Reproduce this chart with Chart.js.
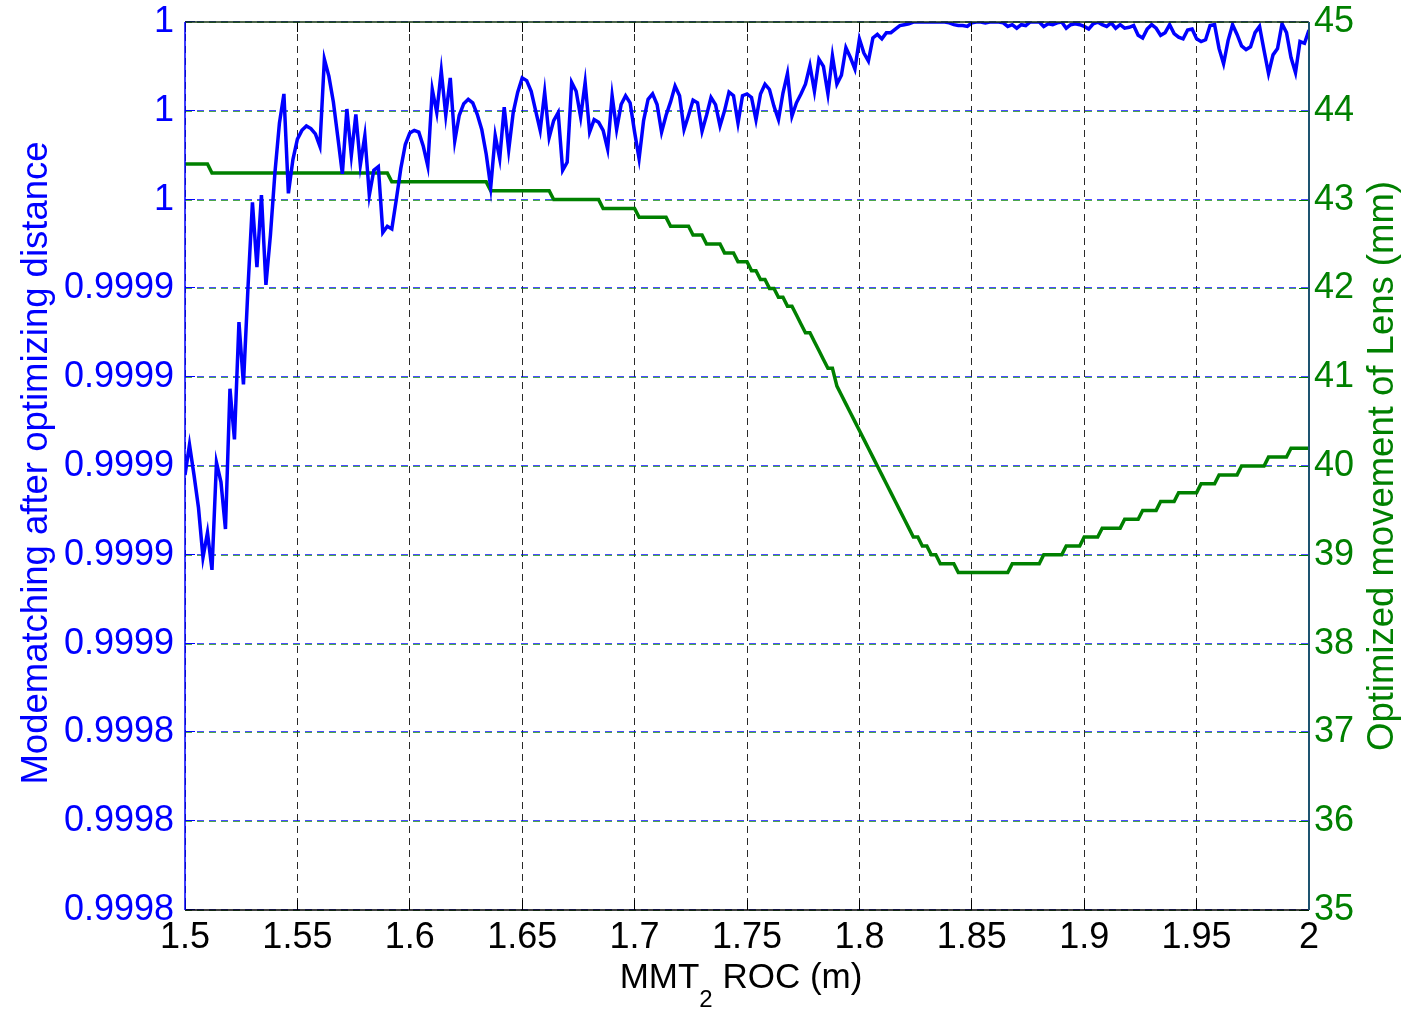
<!DOCTYPE html>
<html>
<head>
<meta charset="utf-8">
<script src="https://cdn.jsdelivr.net/npm/chart.js@4.4.1/dist/chart.umd.min.js"></script>
<style>
html,body{margin:0;padding:0;background:#ffffff;}
#wrap{width:1402px;height:1009px;position:relative;}
canvas{display:block;}
</style>
</head>
<body>
<div id="wrap"><canvas id="c" width="1402" height="1009"></canvas></div>
<script>
// ---------- data ----------
const rocValues = [
1.5,1.502,1.504,1.506,1.508,1.51,1.512,1.514,1.516,1.518,
1.52,1.522,1.524,1.526,1.528,1.53,1.532,1.534,1.536,1.538,
1.54,1.542,1.544,1.546,1.548,1.55,1.552,1.554,1.556,1.558,
1.56,1.562,1.564,1.566,1.568,1.57,1.572,1.574,1.576,1.578,
1.58,1.582,1.584,1.586,1.588,1.59,1.592,1.594,1.596,1.598,
1.6,1.602,1.604,1.606,1.608,1.61,1.612,1.614,1.616,1.618,
1.62,1.622,1.624,1.626,1.628,1.63,1.632,1.634,1.636,1.638,
1.64,1.642,1.644,1.646,1.648,1.65,1.652,1.654,1.656,1.658,
1.66,1.662,1.664,1.666,1.668,1.67,1.672,1.674,1.676,1.678,
1.68,1.682,1.684,1.686,1.688,1.69,1.692,1.694,1.696,1.698,
1.7,1.702,1.704,1.706,1.708,1.71,1.712,1.714,1.716,1.718,
1.72,1.722,1.724,1.726,1.728,1.73,1.732,1.734,1.736,1.738,
1.74,1.742,1.744,1.746,1.748,1.75,1.752,1.754,1.756,1.758,
1.76,1.762,1.764,1.766,1.768,1.77,1.772,1.774,1.776,1.778,
1.78,1.782,1.784,1.786,1.788,1.79,1.792,1.794,1.796,1.798,
1.8,1.802,1.804,1.806,1.808,1.81,1.812,1.814,1.816,1.818,
1.82,1.822,1.824,1.826,1.828,1.83,1.832,1.834,1.836,1.838,
1.84,1.842,1.844,1.846,1.848,1.85,1.852,1.854,1.856,1.858,
1.86,1.862,1.864,1.866,1.868,1.87,1.872,1.874,1.876,1.878,
1.88,1.882,1.884,1.886,1.888,1.89,1.892,1.894,1.896,1.898,
1.9,1.902,1.904,1.906,1.908,1.91,1.912,1.914,1.916,1.918,
1.92,1.922,1.924,1.926,1.928,1.93,1.932,1.934,1.936,1.938,
1.94,1.942,1.944,1.946,1.948,1.95,1.952,1.954,1.956,1.958,
1.96,1.962,1.964,1.966,1.968,1.97,1.972,1.974,1.976,1.978,
1.98,1.982,1.984,1.986,1.988,1.99,1.992,1.994,1.996,1.998,
2.0
];

const modematching = [
0.999898,0.9999048,0.999898,0.9998906,0.9998794,0.999885,0.9998766,0.9999008,0.9998964,0.9998858,
0.9999174,0.999906,0.9999324,0.9999184,0.99994,0.9999594,0.9999448,0.999961,0.9999408,0.999952,
0.999966,0.9999772,0.9999838,0.9999614,0.999969,0.9999736,0.9999756,0.9999766,0.999976,0.9999748,
0.999972,0.9999916,0.9999878,0.999982,0.999974,0.9999658,0.9999804,0.99997,0.9999792,0.9999678,
0.9999744,0.999961,0.9999666,0.9999674,0.9999526,0.999954,0.9999534,0.99996,0.999967,0.9999724,
0.999975,0.9999756,0.9999752,0.999972,0.9999676,0.9999848,0.9999796,0.999989,0.999979,0.9999874,
0.9999732,0.999979,0.9999816,0.9999826,0.9999818,0.9999792,0.9999758,0.9999702,0.9999628,0.9999744,
0.9999692,0.9999808,0.9999712,0.9999796,0.9999842,0.9999874,0.9999868,0.9999844,0.99998,0.9999756,
0.9999842,0.999974,0.9999778,0.9999796,0.9999666,0.9999684,0.9999864,0.9999844,0.9999786,0.9999864,
0.9999752,0.999978,0.9999774,0.9999756,0.9999714,0.9999834,0.9999758,0.9999814,0.9999834,0.9999818,
0.9999752,0.9999692,0.9999778,0.9999826,0.9999838,0.9999814,0.9999752,0.999979,0.999982,0.9999856,
0.9999834,0.9999758,0.999979,0.9999824,0.9999818,0.9999754,0.999979,0.999983,0.9999814,0.9999766,
0.99998,0.9999842,0.9999834,0.9999772,0.9999834,0.9999838,0.999983,0.999978,0.9999838,0.999986,
0.9999848,0.999981,0.999978,0.999984,0.9999884,0.9999788,0.9999818,0.9999838,0.999986,0.9999902,
0.9999844,0.9999916,0.99999,0.9999838,0.9999924,0.999986,0.999988,0.9999942,0.999992,0.9999894,
0.9999962,0.999993,0.9999912,0.9999964,0.9999972,0.9999962,0.9999976,0.9999976,0.9999984,0.9999992,
0.9999994,0.9999996,1,1,1,1,1,1,1,1,
0.9999998,0.9999994,0.9999992,0.9999992,0.999999,0.9999998,1,1,0.9999998,1,
1,1,0.9999998,0.999999,0.9999994,0.9999986,0.9999994,0.9999992,1,1,
1,0.999999,0.9999996,0.9999994,0.9999998,1,0.9999986,0.9999994,0.9999996,0.9999994,
0.999999,0.9999984,0.9999996,1,0.9999994,0.999999,0.9999998,0.9999986,0.9999994,0.9999986,
0.9999988,0.9999992,0.999997,0.9999964,0.9999984,0.9999994,0.9999986,0.999997,0.9999976,0.9999994,
0.9999974,0.9999966,0.9999962,0.9999982,0.9999984,0.9999962,0.9999956,0.999996,0.9999992,0.9999994,
0.999994,0.9999906,0.9999958,0.9999994,0.9999972,0.9999946,0.9999938,0.9999944,0.9999976,0.999999,
0.9999936,0.9999884,0.9999926,0.999994,0.9999996,0.9999976,0.999992,0.9999886,0.9999956,0.9999952,
0.9999982
];

const lensMovement = [
43.4,43.4,43.4,43.4,43.4,43.4,43.3,43.3,43.3,43.3,
43.3,43.3,43.3,43.3,43.3,43.3,43.3,43.3,43.3,43.3,
43.3,43.3,43.3,43.3,43.3,43.3,43.3,43.3,43.3,43.3,
43.3,43.3,43.3,43.3,43.3,43.3,43.3,43.3,43.3,43.3,
43.3,43.3,43.3,43.3,43.3,43.3,43.2,43.2,43.2,43.2,
43.2,43.2,43.2,43.2,43.2,43.2,43.2,43.2,43.2,43.2,
43.2,43.2,43.2,43.2,43.2,43.2,43.2,43.2,43.1,43.1,
43.1,43.1,43.1,43.1,43.1,43.1,43.1,43.1,43.1,43.1,
43.1,43.1,43.0,43.0,43.0,43.0,43.0,43.0,43.0,43.0,
43.0,43.0,43.0,42.9,42.9,42.9,42.9,42.9,42.9,42.9,
42.9,42.8,42.8,42.8,42.8,42.8,42.8,42.8,42.7,42.7,
42.7,42.7,42.7,42.6,42.6,42.6,42.5,42.5,42.5,42.5,
42.4,42.4,42.4,42.3,42.3,42.3,42.2,42.2,42.1,42.1,
42.0,42.0,41.9,41.9,41.8,41.8,41.7,41.6,41.5,41.5,
41.4,41.3,41.2,41.1,41.1,40.9,40.8,40.7,40.6,40.5,
40.4,40.3,40.2,40.1,40.0,39.9,39.8,39.7,39.6,39.5,
39.4,39.3,39.2,39.2,39.1,39.1,39.0,39.0,38.9,38.9,
38.9,38.9,38.8,38.8,38.8,38.8,38.8,38.8,38.8,38.8,
38.8,38.8,38.8,38.8,38.9,38.9,38.9,38.9,38.9,38.9,
38.9,39.0,39.0,39.0,39.0,39.0,39.1,39.1,39.1,39.1,
39.2,39.2,39.2,39.2,39.3,39.3,39.3,39.3,39.3,39.4,
39.4,39.4,39.4,39.5,39.5,39.5,39.5,39.6,39.6,39.6,
39.6,39.7,39.7,39.7,39.7,39.7,39.8,39.8,39.8,39.8,
39.9,39.9,39.9,39.9,39.9,40.0,40.0,40.0,40.0,40.0,
40.0,40.1,40.1,40.1,40.1,40.1,40.2,40.2,40.2,40.2,
40.2
];

const xTickValues = [1.5,1.55,1.6,1.65,1.7,1.75,1.8,1.85,1.9,1.95,2];
const leftTickValues = [0.9998,0.99982,0.99984,0.99986,0.99988,0.9999,0.99992,0.99994,0.99996,0.99998,1];
const rightTickValues = [35,36,37,38,39,40,41,42,43,44,45];

const leftTitle = 'Modematching after optimizing distance';
const rightTitle = 'Optimized movement of Lens (mm)';
const xTitleMain = 'MMT';
const xTitleSub = '2';
const xTitleRest = ' ROC (m)';

// ---------- styling ----------
const FONT = '"Liberation Sans", Arial, Helvetica, sans-serif';
const BLUE = '#0000ff';
const GREEN = '#008000';
const TICK_SIZE = 36;
const GRID_DASH = [7, 5];

const setTicks = arr => scale => { scale.ticks = arr.map(v => ({ value: v })); };

const gridAndFrame = {
  id: 'gridAndFrame',
  beforeDatasetsDraw(chart) {
    // horizontal dashed grid of both value axes: blue row, green row just under it
    const ctx = chart.ctx, a = chart.chartArea, sy = chart.scales.y, sy2 = chart.scales.y2;
    ctx.save();
    ctx.lineWidth = 1;
    ctx.setLineDash(GRID_DASH);
    sy.ticks.forEach(t => {
      const base = Math.round(sy.getPixelForValue(t.value));
      ctx.strokeStyle = 'rgba(0,0,255,0.7)';
      ctx.beginPath(); ctx.moveTo(a.left, base - 0.5); ctx.lineTo(a.right, base - 0.5); ctx.stroke();
    });
    sy2.ticks.forEach(t => {
      const base = Math.round(sy2.getPixelForValue(t.value));
      ctx.strokeStyle = 'rgba(0,128,0,0.7)';
      ctx.beginPath(); ctx.moveTo(a.left, base + 0.5); ctx.lineTo(a.right, base + 0.5); ctx.stroke();
    });
    ctx.restore();
  },
  afterDraw(chart) {
    const ctx = chart.ctx;
    const a = chart.chartArea;
    const sx = chart.scales.x, sy = chart.scales.y, sy2 = chart.scales.y2;
    ctx.save();
    ctx.setLineDash([]);
    // inward tick marks
    ctx.lineWidth = 1;
    ctx.strokeStyle = '#000';
    sx.ticks.forEach(t => {
      const p = Math.round(sx.getPixelForValue(t.value) - 0.5) + 0.5;
      ctx.beginPath(); ctx.moveTo(p, a.bottom); ctx.lineTo(p, a.bottom - 10); ctx.stroke();
      ctx.beginPath(); ctx.moveTo(p, a.top); ctx.lineTo(p, a.top + 10); ctx.stroke();
    });
    ctx.strokeStyle = BLUE;
    sy.ticks.forEach(t => {
      const p = Math.round(sy.getPixelForValue(t.value)) - 0.5;
      ctx.beginPath(); ctx.moveTo(a.left, p); ctx.lineTo(a.left + 10, p); ctx.stroke();
    });
    ctx.strokeStyle = GREEN;
    sy2.ticks.forEach(t => {
      const p = Math.round(sy2.getPixelForValue(t.value)) + 0.5;
      ctx.beginPath(); ctx.moveTo(a.right, p); ctx.lineTo(a.right - 10, p); ctx.stroke();
    });
    // frame
    ctx.lineWidth = 1.5;
    ctx.strokeStyle = '#10300f';
    ctx.beginPath(); ctx.moveTo(a.left, a.top); ctx.lineTo(a.right, a.top); ctx.stroke();
    ctx.strokeStyle = '#000';
    ctx.beginPath(); ctx.moveTo(a.left, a.bottom); ctx.lineTo(a.right, a.bottom); ctx.stroke();
    ctx.strokeStyle = BLUE;
    ctx.beginPath(); ctx.moveTo(a.left, a.top); ctx.lineTo(a.left, a.bottom); ctx.stroke();
    ctx.lineWidth = 2;
    ctx.strokeStyle = '#1d5370';
    ctx.beginPath(); ctx.moveTo(a.right, a.top); ctx.lineTo(a.right, a.bottom); ctx.stroke();
    // axis titles
    const midY = (a.top + a.bottom) / 2;
    ctx.font = '36.5px ' + FONT;
    ctx.textAlign = 'center';
    ctx.textBaseline = 'alphabetic';
    ctx.fillStyle = BLUE;
    ctx.save(); ctx.translate(47, midY - 3); ctx.rotate(-Math.PI / 2); ctx.fillText(leftTitle, 0, 0); ctx.restore();
    ctx.fillStyle = GREEN;
    ctx.save(); ctx.translate(1393, midY); ctx.rotate(-Math.PI / 2); ctx.fillText(rightTitle, 0, 0); ctx.restore();
    // x title with subscript
    ctx.fillStyle = '#000';
    ctx.textAlign = 'left';
    const mainFont = '35px ' + FONT, subFont = '24px ' + FONT;
    ctx.font = mainFont; const w1 = ctx.measureText(xTitleMain).width; const w3 = ctx.measureText(xTitleRest).width;
    ctx.font = subFont; const w2 = ctx.measureText(xTitleSub).width;
    const total = w1 + w2 + w3;
    const x0 = (a.left + a.right) / 2 - 6 - total / 2;
    ctx.font = mainFont; ctx.fillText(xTitleMain, x0, 988);
    ctx.font = subFont; ctx.fillText(xTitleSub, x0 + w1, 1007);
    ctx.font = mainFont; ctx.fillText(xTitleRest, x0 + w1 + w2, 988);
    ctx.restore();
  }
};

new Chart(document.getElementById('c'), {
  type: 'line',
  data: {
    datasets: [
      {
        label: 'Modematching',
        data: rocValues.map((x, i) => ({ x: x, y: modematching[i] })),
        yAxisID: 'y',
        borderColor: BLUE,
        borderWidth: 3.5,
        pointRadius: 0,
        tension: 0,
        fill: false
      },
      {
        label: 'Lens movement',
        data: rocValues.map((x, i) => ({ x: x, y: lensMovement[i] })),
        yAxisID: 'y2',
        borderColor: GREEN,
        borderWidth: 3.5,
        pointRadius: 0,
        tension: 0,
        fill: false
      }
    ]
  },
  options: {
    responsive: false,
    animation: false,
    devicePixelRatio: 1,
    layout: { padding: { top: 22, left: 0, right: 0, bottom: 0 } },
    plugins: { legend: { display: false }, tooltip: { enabled: false }, title: { display: false } },
    scales: {
      x: {
        type: 'linear',
        position: 'bottom',
        min: 1.5,
        max: 2,
        afterBuildTicks: setTicks(xTickValues),
        afterFit: s => { s.height = 99; s.paddingLeft = 0; s.paddingRight = 0; },
        ticks: {
          color: '#000',
          font: { family: FONT, size: TICK_SIZE },
          padding: 6,
          maxRotation: 0,
          autoSkip: false,
          callback: v => String(parseFloat(Number(v).toFixed(2)))
        },
        grid: { color: '#2a2a2a', lineWidth: 1, drawTicks: false },
        border: { display: false, dash: GRID_DASH }
      },
      y: {
        type: 'linear',
        position: 'left',
        min: 0.9998,
        max: 1,
        afterBuildTicks: setTicks(leftTickValues),
        afterFit: s => { s.width = 185; s.paddingTop = 0; s.paddingBottom = 0; },
        ticks: {
          color: BLUE,
          font: { family: FONT, size: TICK_SIZE },
          padding: 11,
          autoSkip: false,
          callback: v => String(parseFloat(Number(v).toFixed(4)))
        },
        grid: { display: true, color: 'rgba(0,0,0,0)', drawTicks: false },
        border: { display: false }
      },
      y2: {
        type: 'linear',
        position: 'right',
        min: 35,
        max: 45,
        afterBuildTicks: setTicks(rightTickValues),
        afterFit: s => { s.width = 93; s.paddingTop = 0; s.paddingBottom = 0; },
        ticks: {
          color: GREEN,
          font: { family: FONT, size: TICK_SIZE },
          padding: 5,
          autoSkip: false,
          callback: v => String(v)
        },
        grid: { display: true, color: 'rgba(0,0,0,0)', drawTicks: false },
        border: { display: false }
      }
    }
  },
  plugins: [gridAndFrame]
});
</script>
</body>
</html>
